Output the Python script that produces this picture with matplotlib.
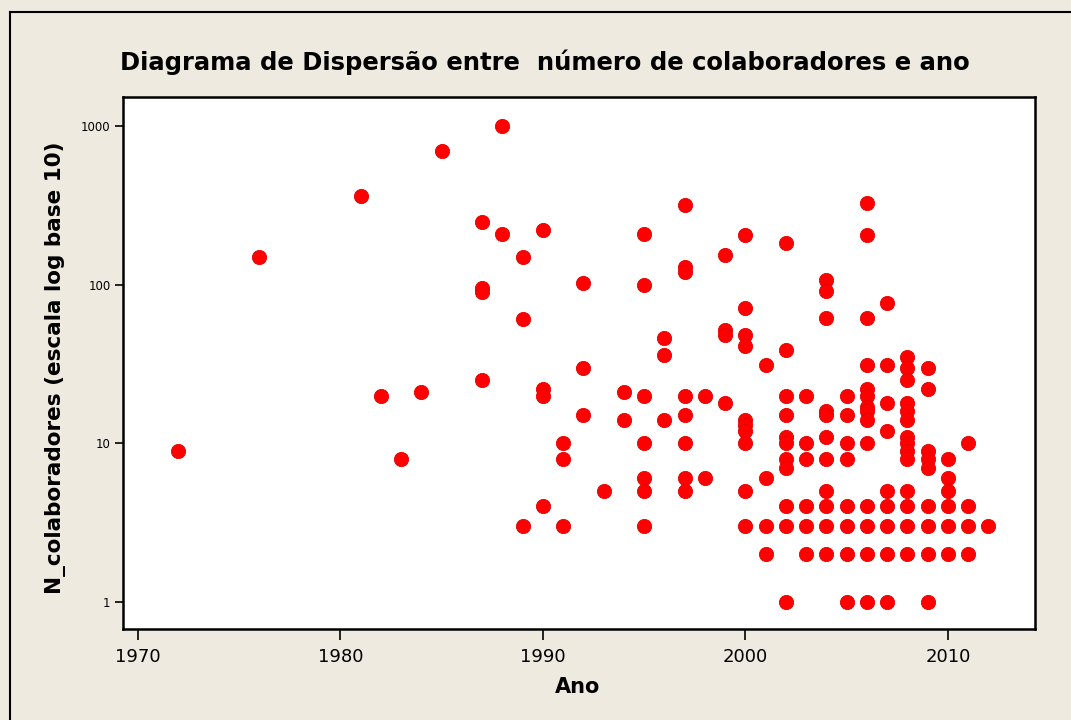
import matplotlib
matplotlib.use("Agg")
import matplotlib.pyplot as plt
from matplotlib.lines import Line2D
from matplotlib.ticker import FixedLocator, FixedFormatter, NullLocator

# Number of collaborators per project, grouped by year
anos = [1972, 1976, 1981, 1982, 1983, 1984, 1985, 1987, 1988, 1989, 1990,
        1991, 1992, 1993, 1994, 1995, 1996, 1997, 1998, 1999, 2000, 2001,
        2002, 2003, 2004, 2005, 2006, 2007, 2008, 2009, 2010, 2011, 2012]
colaboradores = [
    [9],
    [150],
    [360],
    [20],
    [8],
    [21],
    [700],
    [250, 95, 90, 25],
    [1000, 210],
    [150, 61, 3],
    [220, 22, 20, 4],
    [10, 8, 3],
    [103, 30, 15],
    [5],
    [21, 14],
    [210, 100, 20, 10, 6, 5, 3],
    [46, 36, 14],
    [316, 130, 121, 20, 15, 10, 6, 5],
    [20, 6],
    [153, 52, 48, 18],
    [205, 71, 48, 41, 14, 13, 12, 10, 5, 3],
    [31, 6, 3, 2],
    [183, 39, 20, 15, 11, 10, 8, 7, 4, 3, 1],
    [20, 10, 8, 4, 3, 2],
    [107, 91, 62, 16, 15, 11, 8, 5, 4, 3, 2],
    [20, 15, 10, 8, 4, 3, 2, 1],
    [327, 205, 62, 31, 22, 20, 17, 16, 14, 10, 4, 3, 2, 1],
    [77, 31, 18, 12, 5, 4, 3, 2, 1],
    [35, 30, 25, 18, 16, 14, 11, 10, 9, 8, 5, 4, 3, 2],
    [30, 22, 9, 8, 7, 4, 3, 2, 1],
    [8, 6, 5, 4, 3, 2],
    [10, 4, 3, 2],
    [3],
]

x_ticks = [1970, 1980, 1990, 2000, 2010]
y_ticks = [1, 10, 100, 1000]
y_tick_labels = ["1", "10", "100", "1000"]

xs, ys = [], []
for ano, vals in zip(anos, colaboradores):
    for v in vals:
        xs.append(ano)
        ys.append(v)

bg = "#EEEAE0"
fig = plt.figure(figsize=(10.71, 7.2), dpi=100, facecolor=bg)

# outer frame (Minitab style): only left and top edges are visible
W, H = 1071, 720
fig.add_artist(Line2D([10 / W, 10 / W], [0, 1 - 12 / H], color="black", lw=1.5))
fig.add_artist(Line2D([10 / W, 1], [1 - 12 / H, 1 - 12 / H], color="black", lw=1.5))

ax = fig.add_axes([123 / W, 1 - 629 / H, 912 / W, 532 / H])
ax.set_facecolor("white")
ax.scatter(xs, ys, s=105, color="#FF0000", edgecolors="#E80000", linewidths=0.6, zorder=3)

ax.set_yscale("log")
ax.set_xlim(1969.26, 2014.3)
ax.set_ylim(0.675, 1524)

ax.xaxis.set_major_locator(FixedLocator(x_ticks))
ax.yaxis.set_major_locator(FixedLocator(y_ticks))
ax.yaxis.set_major_formatter(FixedFormatter(y_tick_labels))
ax.yaxis.set_minor_locator(NullLocator())

for s in ax.spines.values():
    s.set_linewidth(1.8)
    s.set_color("black")

ax.tick_params(axis="x", direction="out", length=8, width=1.2, labelsize=13, pad=6)
ax.tick_params(axis="y", direction="out", length=6, width=1.2, labelsize=8.5, pad=3)

fig.text(545 / W, 1 - 62 / H, "Diagrama de Dispersão entre  número de colaboradores e ano",
         ha="center", va="center", fontsize=17.5, fontweight="bold")
fig.text(578 / W, 1 - 687 / H, "Ano", ha="center", va="center", fontsize=15, fontweight="bold")
fig.text(56 / W, 1 - 368 / H, "N_colaboradores (escala log base 10)", ha="center", va="center",
         rotation=90, fontsize=15.5, fontweight="bold")

fig.savefig("out.png", dpi=100, facecolor=bg)
